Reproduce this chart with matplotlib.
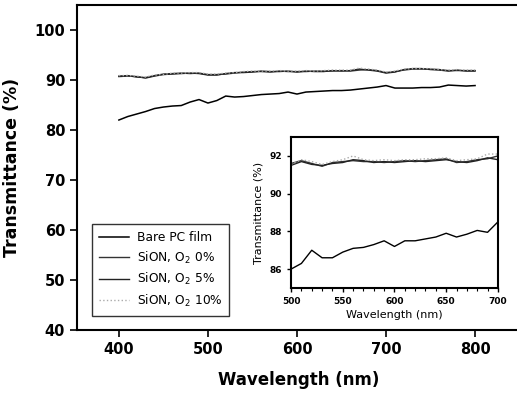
import numpy as np
import matplotlib.pyplot as plt

# main plot data (nm, %)
wl_main = [400, 410, 420, 430, 440, 450, 460, 470, 480, 490, 500, 510, 520, 530, 540,
           550, 560, 570, 580, 590, 600, 610, 620, 630, 640, 650, 660, 670, 680, 690,
           700, 710, 720, 730, 740, 750, 760, 770, 780, 790, 800]
bare_pc = [82.0, 82.7, 83.2, 83.7, 84.3, 84.6, 84.8, 84.9, 85.6, 86.1, 85.4, 85.9, 86.8, 86.6, 86.7,
           86.9, 87.1, 87.2, 87.3, 87.6, 87.2, 87.6, 87.7, 87.8, 87.9, 87.9, 88.0, 88.2, 88.4, 88.6,
           88.9, 88.4, 88.4, 88.4, 88.5, 88.5, 88.6, 89.0, 88.9, 88.8, 88.9]
sion_0 = [90.8, 90.9, 90.6, 90.5, 90.9, 91.2, 91.3, 91.4, 91.3, 91.4, 91.1, 91.1, 91.2, 91.4, 91.6,
          91.7, 91.7, 91.6, 91.8, 91.7, 91.7, 91.7, 91.8, 91.8, 91.8, 91.9, 91.8, 92.0, 92.1, 91.9,
          91.5, 91.7, 92.0, 92.2, 92.2, 92.2, 92.1, 91.9, 91.9, 91.9, 91.9]
sion_5 = [90.7, 90.8, 90.7, 90.4, 90.8, 91.1, 91.2, 91.3, 91.4, 91.3, 91.0, 91.0, 91.3, 91.5, 91.5,
          91.6, 91.8, 91.7, 91.7, 91.8, 91.6, 91.8, 91.7, 91.7, 91.9, 91.8, 91.9, 92.2, 92.0, 91.8,
          91.4, 91.6, 92.1, 92.3, 92.3, 92.1, 92.0, 91.8, 92.0, 91.8, 91.8]
sion_10 = [90.9, 90.9, 90.8, 90.6, 91.0, 91.1, 91.4, 91.4, 91.5, 91.5, 91.2, 91.2, 91.4, 91.5, 91.7,
           91.8, 91.8, 91.8, 91.9, 91.8, 91.8, 91.9, 91.8, 91.9, 92.0, 92.0, 92.0, 92.4, 92.2, 92.0,
           91.6, 91.8, 92.2, 92.3, 92.3, 92.3, 92.1, 92.0, 92.1, 92.0, 92.0]

# inset data
wl_ins = [500, 510, 520, 530, 540, 550, 560, 570, 580, 590, 600, 610, 620, 630, 640,
          650, 660, 670, 680, 690, 700]
bare_ins = [86.0, 86.3, 87.0, 86.6, 86.6, 86.9, 87.1, 87.15, 87.3, 87.5, 87.2, 87.5, 87.5, 87.6, 87.7,
            87.9, 87.7, 87.85, 88.05, 87.95, 88.5]
sion0_ins = [91.6, 91.75, 91.6, 91.45, 91.65, 91.7, 91.75, 91.7, 91.7, 91.65, 91.7, 91.75, 91.7, 91.75, 91.8,
             91.85, 91.65, 91.7, 91.8, 91.85, 92.0]
sion5_ins = [91.5, 91.7, 91.55, 91.5, 91.6, 91.65, 91.8, 91.75, 91.65, 91.7, 91.65, 91.7, 91.75, 91.7, 91.75,
             91.8, 91.7, 91.65, 91.75, 91.9, 91.8]
sion10_ins = [91.55, 91.8, 91.7, 91.55, 91.7, 91.8, 92.0, 91.8, 91.75, 91.8, 91.75, 91.8, 91.8, 91.85, 91.85,
              91.9, 91.75, 91.8, 91.85, 92.1, 92.1]

fig = plt.figure(figsize=(5.17, 3.95), dpi=100)
ax = fig.add_axes([0.149, 0.165, 0.856, 0.822])

ax.plot(wl_main, bare_pc, color='black', lw=1.1, label='Bare PC film')
ax.plot(wl_main, sion_0, color='#333333', lw=1.0, label='SiON, O$_2$ 0%')
ax.plot(wl_main, sion_5, color='#222222', lw=1.0, label='SiON, O$_2$ 5%')
ax.plot(wl_main, sion_10, color='#aaaaaa', lw=1.0, ls=':', label='SiON, O$_2$ 10%')

ax.set_xlim(353, 850)
ax.set_ylim(40, 105)
ax.set_xticks([400, 500, 600, 700, 800])
ax.set_yticks([40, 50, 60, 70, 80, 90, 100])
ax.spines['right'].set_visible(False)
for s in ax.spines.values():
    s.set_linewidth(1.5)
ax.tick_params(direction='out', length=5, width=1.2, labelsize=10.5)
for t in ax.get_xticklabels() + ax.get_yticklabels():
    t.set_fontweight('bold')
ax.set_xlabel('Wavelength (nm)', fontsize=12, fontweight='bold', labelpad=10)
ax.set_ylabel('Transmittance (%)', fontsize=12.5, fontweight='bold', labelpad=10)

leg = ax.legend(loc='lower left', bbox_to_anchor=(0.02, 0.025), fontsize=8.8,
                frameon=True, fancybox=False, edgecolor='black', handlelength=2.5,
                borderpad=0.55, labelspacing=0.45, handletextpad=0.6)
leg.get_frame().set_linewidth(1.0)

# inset
ins = fig.add_axes([0.563, 0.271, 0.400, 0.382])
ins.plot(wl_ins, bare_ins, color='black', lw=1.0)
ins.plot(wl_ins, sion0_ins, color='#333333', lw=1.0)
ins.plot(wl_ins, sion5_ins, color='#222222', lw=1.0)
ins.plot(wl_ins, sion10_ins, color='#aaaaaa', lw=1.0, ls=':')
ins.set_xlim(500, 700)
ins.set_ylim(85, 93)
ins.set_xticks([500, 550, 600, 650, 700])
ins.set_xticks([510, 520, 530, 540, 560, 570, 580, 590, 610, 620, 630, 640, 660, 670, 680, 690], minor=True)
ins.set_yticks([86, 88, 90, 92])
for s in ins.spines.values():
    s.set_linewidth(1.5)
ins.tick_params(direction='out', length=3, width=1.0, labelsize=6.5)
ins.tick_params(which='minor', direction='out', length=2, width=0.8)
for t in ins.get_xticklabels() + ins.get_yticklabels():
    t.set_fontweight('bold')
ins.set_xlabel('Wavelength (nm)', fontsize=8, labelpad=3)
ins.set_ylabel('Transmittance (%)', fontsize=8, labelpad=4)

fig.savefig('out.png', dpi=100)
